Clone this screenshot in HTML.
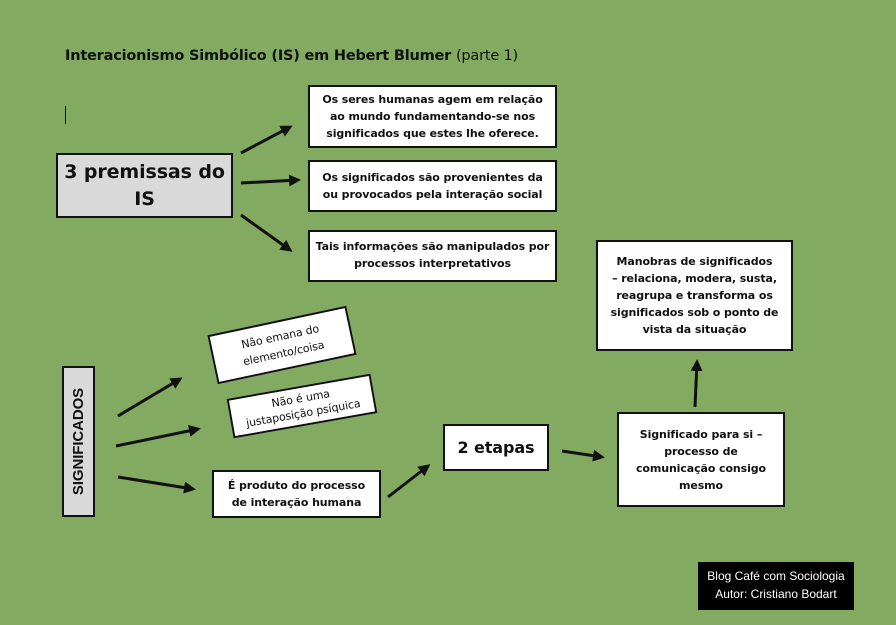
<!DOCTYPE html>
<html><head><meta charset="utf-8"><style>
body{margin:0;width:896px;height:625px;background:#82aa60;position:relative;overflow:hidden;font-family:"DejaVu Sans","Liberation Sans",sans-serif;}
.b{position:absolute;background:#fff;border:2px solid #111;box-sizing:border-box;display:flex;align-items:center;justify-content:center;text-align:center;font-weight:bold;font-size:11px;line-height:17px;color:#111;white-space:nowrap;letter-spacing:-0.1px;}
.n{font-weight:normal;}
</style></head><body>
<div style="position:absolute;left:65px;top:48px;font-size:14.5px;font-weight:bold;color:#111;letter-spacing:-0.2px;">Interacionismo Simbólico (IS) em Hebert Blumer <span style="font-weight:normal">(parte 1)</span></div>
<div style="position:absolute;left:65px;top:106px;width:1px;height:18px;background:#111"></div>
<div class="b" style="left:308px;top:85px;width:249px;height:63px;">Os seres humanas agem em relação<br>ao mundo fundamentando-se nos<br>significados que estes lhe oferece.</div>
<div class="b" style="left:308px;top:160px;width:249px;height:52px;">Os significados são provenientes da<br>ou provocados pela interação social</div>
<div class="b" style="left:308px;top:230px;width:249px;height:52px;align-items:flex-start;padding-top:6px;">Tais informações são manipulados por<br>processos interpretativos</div>
<div class="b" style="left:56px;top:153px;width:177px;height:65px;background:#d9d9d9;font-size:19px;line-height:27px;">3 premissas do<br>IS</div>
<div class="b" style="left:596px;top:240px;width:197px;height:111px;">Manobras de significados<br>– relaciona, modera, susta,<br>reagrupa e transforma os<br>significados sob o ponto de<br>vista da situação</div>
<div class="b" style="left:617px;top:412px;width:168px;height:95px;">Significado para si –<br>processo de<br>comunicação consigo<br>mesmo</div>
<div class="b" style="left:443px;top:424px;width:106px;height:47px;font-size:16px;">2 etapas</div>
<div class="b" style="left:212px;top:470px;width:169px;height:48px;">É produto do processo<br>de interação humana</div>
<div class="b n" style="left:211px;top:320px;width:142px;height:50px;transform:rotate(-12deg);">Não emana do<br>elemento/coisa</div>
<div class="b n" style="left:229px;top:386px;width:146px;height:40px;transform:rotate(-10deg);line-height:15px;">Não é uma<br>justaposição psíquica</div>
<div class="b" style="left:62px;top:366px;width:33px;height:151px;background:#d9d9d9;"><div style="transform:rotate(-90deg);white-space:nowrap;font-size:15px;font-weight:bold;font-family:'Liberation Sans',sans-serif;">SIGNIFICADOS</div></div>
<div style="position:absolute;left:698px;top:562px;width:156px;height:48px;background:#000;color:#fff;font-size:12px;line-height:18px;text-align:center;padding-top:5px;box-sizing:border-box;font-family:'Liberation Sans',sans-serif;">Blog Café com Sociologia<br>Autor: Cristiano Bodart</div>
<svg width="896" height="625" style="position:absolute;left:0;top:0">
<defs><marker id="a" markerWidth="4" markerHeight="4" refX="3" refY="2" orient="auto"><path d="M0,0L4,2L0,4z" fill="#111"/></marker></defs>
<g stroke="#111" stroke-width="3" marker-end="url(#a)">
<line x1="241" y1="153" x2="290" y2="127"/>
<line x1="241" y1="183" x2="298" y2="180"/>
<line x1="241" y1="215" x2="290" y2="250"/>
<line x1="118" y1="416" x2="180" y2="379"/>
<line x1="116" y1="446" x2="198" y2="429"/>
<line x1="118" y1="477" x2="193" y2="489"/>
<line x1="388" y1="497" x2="428" y2="466"/>
<line x1="562" y1="451" x2="602" y2="457"/>
<line x1="695" y1="407" x2="697" y2="362"/>
</g></svg>
</body></html>
